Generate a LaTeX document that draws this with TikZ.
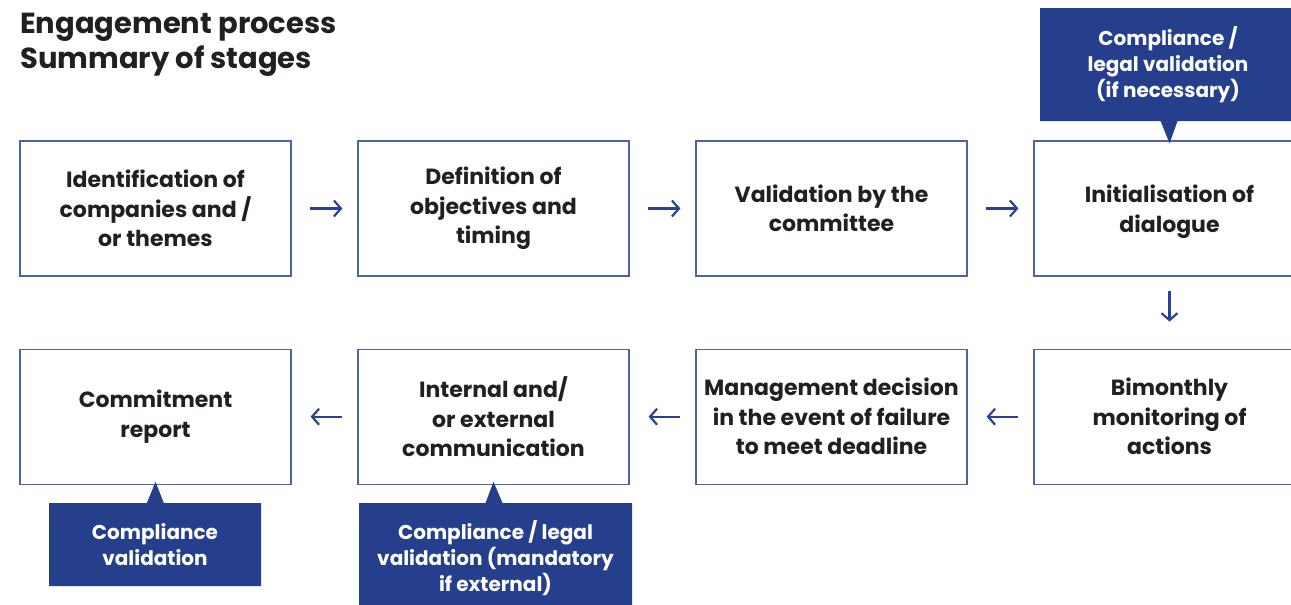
\documentclass[tikz,border=0pt]{standalone}
\usepackage{fontspec}
\setmainfont{Poppins}
\usetikzlibrary{arrows.meta, positioning, shapes.callouts}
\definecolor{cnavy}{HTML}{253F8C}
\definecolor{cframe}{HTML}{4D62AA}
\definecolor{carrow}{HTML}{2B4199}
\definecolor{cink}{HTML}{231F20}

\begin{document}
\begin{tikzpicture}[x=1pt, y=-1pt,
  stage/.style={draw=cframe, line width=1.2pt, minimum width=271pt, minimum height=135pt,
    align=center, inner sep=0pt, text=cink, font=\fontsize{22}{29.5}\selectfont\bfseries},
  flow/.style={-{Straight Barb[length=7pt,width=16pt]}, carrow, line width=2.2pt},
  note/.style={rectangle callout, fill=cnavy, text=white, align=center, inner sep=0pt,
    callout pointer width=17pt, font=\fontsize{20}{26}\selectfont\bfseries}]
  \useasboundingbox (0,0) rectangle (1291,605);

  % Heading
  \node[anchor=north west, inner sep=0pt, align=left, text=cink,
    font=\fontsize{29}{35}\selectfont\bfseries] (title) at (20,13)
    {Engagement process\\Summary of stages};

  % First row, left to right
  \node[stage] (idcomp) at (155.5,208.5) {Identification of\\companies and /\\or themes};
  \node[stage, right=65.8pt of idcomp] (defobj) {Definition of\\objectives and\\timing};
  \node[stage, right=65.8pt of defobj] (valcom) {Validation by the\\committee};
  \node[stage, right=65.8pt of valcom] (initdlg) {Initialisation of\\\raisebox{0pt}[\height][0pt]{dialogue}};

  % Second row, right to left
  \node[stage, below=72pt of initdlg] (bimon) {Bimonthly\\monitoring of\\actions};
  \node[stage, left=65.8pt of bimon] (mgmt) {Management decision\\in the event of failure\\to meet deadline};
  \node[stage, left=65.8pt of mgmt] (comm) {Internal and/\\or external\\communication};
  \node[stage, left=65.8pt of comm] (report) {Commitment\\report};

  % Arrows between stages
  \draw[flow, shorten <=18pt, shorten >=15pt] (idcomp) -- (defobj);
  \draw[flow, shorten <=18pt, shorten >=15pt] (defobj) -- (valcom);
  \draw[flow, shorten <=18pt, shorten >=15pt] (valcom) -- (initdlg);
  \draw[flow, shorten <=14pt, shorten >=27pt] (initdlg) -- (bimon);
  \draw[flow, shorten <=15pt, shorten >=19pt] (bimon) -- (mgmt);
  \draw[flow, shorten <=15pt, shorten >=19pt] (mgmt) -- (comm);
  \draw[flow, shorten <=15pt, shorten >=19pt] (comm) -- (report);

  % Validation notes
  \node[note, minimum width=256pt, minimum height=113pt,
    callout absolute pointer={([yshift=-3pt]initdlg.north)}] (legalchk) at (1168,64.5)
    {Compliance /\\legal validation\\(if necessary)};
  \node[note, minimum width=212pt, minimum height=83pt,
    callout absolute pointer={([yshift=3pt]report.south)}] (compchk) at (155,544.5)
    {Compliance\\validation};
  \node[note, minimum width=273pt, minimum height=110pt,
    callout absolute pointer={([yshift=3pt]comm.south)}] (extchk) at (495.5,558)
    {Compliance / legal\\validation (mandatory\\if external)};
\end{tikzpicture}
\end{document}
